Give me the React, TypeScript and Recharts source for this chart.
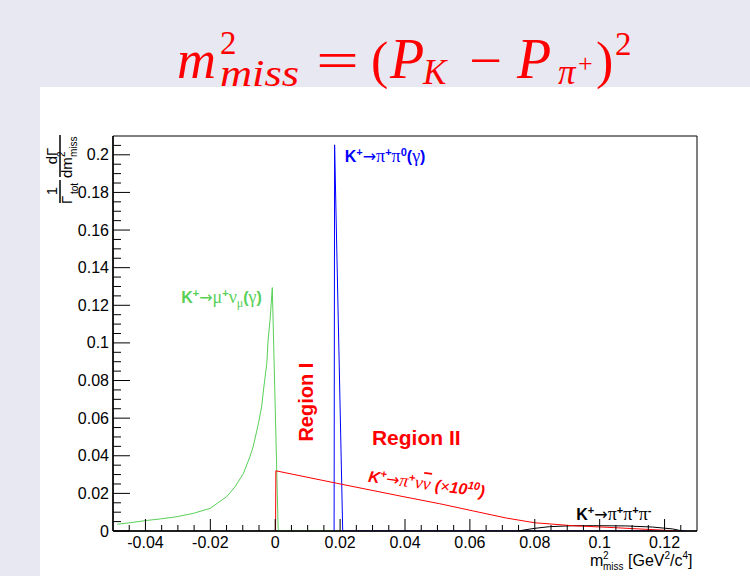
import React from "react";
import { LineChart, Line, XAxis, YAxis, ReferenceArea, ReferenceDot } from "recharts";

// K+ -> mu+ nu (gamma), green
const kmu2 = [
  { x: -0.0487, y: 0.0036 },
  { x: -0.0447, y: 0.0044 },
  { x: -0.0401, y: 0.0055 },
  { x: -0.035, y: 0.0065 },
  { x: -0.0303, y: 0.0076 },
  { x: -0.0252, y: 0.0094 },
  { x: -0.0201, y: 0.012 },
  { x: -0.015, y: 0.0182 },
  { x: -0.0124, y: 0.0235 },
  { x: -0.0098, y: 0.0306 },
  { x: -0.0078, y: 0.0395 },
  { x: -0.0068, y: 0.0448 },
  { x: -0.0052, y: 0.057 },
  { x: -0.0042, y: 0.066 },
  { x: -0.0035, y: 0.0766 },
  { x: -0.0026, y: 0.089 },
  { x: -0.0022, y: 0.1014 },
  { x: -0.0016, y: 0.112 },
  { x: -0.0009, y: 0.1294 },
  { x: 0.0009, y: 0.0014 },
  { x: 0.0012, y: 0 },
  { x: 0.0205, y: 0 },
];

// K+ -> pi+ pi0 (gamma), blue
const k2pi = [
  { x: 0.01815, y: 0 },
  { x: 0.0183, y: 0.2053 },
  { x: 0.0208, y: 0 },
  { x: 0.1266, y: 0 },
];

// K+ -> pi+ pi+ pi-, black
const k3pi = [
  { x: 0.0748, y: 0 },
  { x: 0.0799, y: 0.0014 },
  { x: 0.0845, y: 0.0023 },
  { x: 0.0917, y: 0.0028 },
  { x: 0.0999, y: 0.0028 },
  { x: 0.108, y: 0.0027 },
  { x: 0.1163, y: 0.0021 },
  { x: 0.1225, y: 0.0011 },
  { x: 0.1255, y: 0 },
];

// K+ -> pi+ nu nubar (x 1e10), red
const pinunu = [
  { x: 0.0001, y: 0 },
  { x: 0.0002, y: 0.032 },
  { x: 0.0189, y: 0.0254 },
  { x: 0.0394, y: 0.0183 },
  { x: 0.0507, y: 0.0145 },
  { x: 0.0609, y: 0.0107 },
  { x: 0.0712, y: 0.0069 },
  { x: 0.0799, y: 0.0044 },
  { x: 0.0917, y: 0.0028 },
  { x: 0.102, y: 0.002 },
  { x: 0.1143, y: 0.0009 },
  { x: 0.1245, y: 0 },
];

const xMajor = [-0.04, -0.02, 0, 0.02, 0.04, 0.06, 0.08, 0.1, 0.12];
const yMajor = [0, 0.02, 0.04, 0.06, 0.08, 0.1, 0.12, 0.14, 0.16, 0.18, 0.2];

const steps = (from: number, to: number, step: number) => {
  const out: number[] = [];
  for (let v = from; v <= to + 1e-9; v += step) out.push(Math.round(v * 10000) / 10000);
  return out;
};
const xTicks = steps(-0.045, 0.125, 0.005);
const yTicks = steps(0, 0.205, 0.005);

const isMajor = (v: number, list: number[]) => list.some((m) => Math.abs(m - v) < 1e-6);

const SANS = "'Liberation Sans', Arial, sans-serif";
const SERIF = "'Liberation Serif', 'Times New Roman', serif";
const ARROW = "'DejaVu Sans', sans-serif";
const GREEN = "#58d058";
const RED = "#ff0000";
const BLUE = "#0000ff";

type Part = {
  t: string;
  shift?: number;
  size?: number;
  serif?: boolean;
  arrow?: boolean;
  normal?: boolean;
  italic?: boolean;
  over?: boolean;
};

// a text made of pieces, shift moves a piece up (-) or down (+)
function Rich({ x, y, parts, size, color, bold = true, italic = false, transform, anchor = "start" }: any) {
  let prev = 0;
  return (
    <text
      x={x}
      y={y}
      fill={color}
      fontSize={size}
      fontFamily={SANS}
      fontWeight={bold ? "bold" : "normal"}
      fontStyle={italic ? "italic" : "normal"}
      transform={transform}
      textAnchor={anchor}
    >
      {parts.map((p: Part, i: number) => {
        const s = p.shift || 0;
        const dy = s - prev;
        prev = s;
        return (
          <tspan
            key={i}
            dy={dy}
            fontSize={p.size}
            fontFamily={p.arrow ? ARROW : p.serif ? SERIF : undefined}
            fontWeight={p.normal ? "normal" : undefined}
            fontStyle={p.italic ? "italic" : undefined}
            style={p.over ? { textDecoration: "overline" } : undefined}
          >
            {p.t}
          </tspan>
        );
      })}
    </text>
  );
}

const arrow: Part = { t: "→", arrow: true, normal: true, size: 16 };

const XTick = ({ x, y, payload }: any) => {
  const major = isMajor(payload.value, xMajor);
  return (
    <g>
      <line x1={x} x2={x} y1={y} y2={y - (major ? 12 : 6)} stroke="#000" strokeWidth={1} />
      {major && (
        <text x={x} y={y + 17} textAnchor="middle" fontSize={16} fontFamily={SANS} fill="#000">
          {String(payload.value)}
        </text>
      )}
    </g>
  );
};

const YTick = ({ x, y, payload }: any) => {
  const major = isMajor(payload.value, yMajor);
  return (
    <g>
      <line x1={x} x2={x + (major ? 17 : 8)} y1={y} y2={y} stroke="#000" strokeWidth={1} />
      {major && (
        <text x={x - 4} y={y + 5.5} textAnchor="end" fontSize={16} fontFamily={SANS} fill="#000">
          {String(payload.value)}
        </text>
      )}
    </g>
  );
};

const YTitle = ({ viewBox }: any) => {
  const ox = viewBox.x + 60;
  const oy = viewBox.y + 69;
  return (
    <g transform={`translate(${ox} ${oy}) rotate(-90)`} fontFamily={SANS} fill="#000">
      <text x={14} y={-3} fontSize={15} textAnchor="middle">1</text>
      <line x1={2} x2={25} y1={0} y2={0} stroke="#000" strokeWidth={1.5} />
      <text x={1} y={12} fontSize={15}>Γ</text>
      <text x={11} y={18} fontSize={10}>tot</text>
      <text x={49} y={-3} fontSize={15} textAnchor="middle">dΓ</text>
      <line x1={28} x2={70} y1={0} y2={0} stroke="#000" strokeWidth={1.5} />
      <text x={27} y={12} fontSize={15}>dm</text>
      <text x={48} y={5} fontSize={10}>2</text>
      <text x={48} y={17} fontSize={10}>miss</text>
    </g>
  );
};

const XTitle = ({ viewBox }: any) => {
  const right = viewBox.x + viewBox.width;
  const base = viewBox.y + 35;
  return (
    <g fontFamily={SANS} fill="#000">
      <text x={right - 107} y={base} fontSize={16}>m</text>
      <text x={right - 94} y={base - 7} fontSize={10}>2</text>
      <text x={right - 94} y={base + 4} fontSize={10}>miss</text>
      <Rich
        x={right - 69}
        y={base}
        size={16}
        color="#000"
        bold={false}
        parts={[
          { t: "[GeV" },
          { t: "2", shift: -7, size: 10 },
          { t: "/c" },
          { t: "4", shift: -7, size: 10 },
          { t: "]" },
        ]}
      />
    </g>
  );
};

const note = (render: (cx: number, cy: number) => React.ReactNode) => (p: any) => <g>{render(p.cx, p.cy)}</g>;

function Title() {
  return (
    <svg width={750} height={100} style={{ position: "absolute", left: 0, top: 0 }}>
      <g fill={RED} fontFamily={SERIF}>
        <text x={177} y={78} fontSize={54} fontStyle="italic">m</text>
        <text x={220} y={54} fontSize={33}>2</text>
        <text x={220} y={86} fontSize={37} fontStyle="italic" textLength={79} lengthAdjust="spacingAndGlyphs">miss</text>
        <text x={316} y={78} fontSize={52} textLength={43} lengthAdjust="spacingAndGlyphs">=</text>
        <text x={371} y={78} fontSize={52}>(</text>
        <text x={390} y={78} fontSize={56} fontStyle="italic">P</text>
        <text x={423} y={84} fontSize={35} fontStyle="italic">K</text>
        <text x={469} y={78} fontSize={52} textLength={33} lengthAdjust="spacingAndGlyphs">−</text>
        <text x={517} y={78} fontSize={56} fontStyle="italic">P</text>
        <text x={558} y={84} fontSize={35} fontStyle="italic">π</text>
        <text x={578} y={72} fontSize={26}>+</text>
        <text x={596} y={78} fontSize={52}>)</text>
        <text x={615} y={55} fontSize={33}>2</text>
      </g>
    </svg>
  );
}

export default function App() {
  return (
    <div style={{ position: "absolute", left: 0, top: 0, width: 750, height: 576, background: "#e8e8f3", overflow: "hidden" }}>
      <div style={{ position: "absolute", left: 40, top: 87, width: 710, height: 489, background: "#fff" }} />
      <Title />
      <div style={{ position: "absolute", left: 0, top: 0 }}>
        <LineChart width={750} height={576} margin={{ top: 136, right: 53, bottom: 0, left: 0 }}>
          <XAxis
            dataKey="x"
            type="number"
            domain={[-0.05, 0.13]}
            allowDataOverflow
            ticks={xTicks}
            interval={0}
            tick={XTick}
            tickLine={false}
            tickSize={0}
            tickMargin={0}
            height={45}
            axisLine={{ stroke: "#000", strokeWidth: 1.5 }}
            label={<XTitle />}
          />
          <YAxis
            dataKey="y"
            type="number"
            domain={[0, 0.21]}
            allowDataOverflow
            ticks={yTicks}
            interval={0}
            tick={YTick}
            tickLine={false}
            tickSize={0}
            tickMargin={0}
            width={113}
            axisLine={{ stroke: "#000", strokeWidth: 1.5 }}
            label={<YTitle />}
          />
          <ReferenceArea x1={-0.05} x2={0.13} y1={0} y2={0.21} fill="none" stroke="#000" strokeWidth={1} />
          <Line data={kmu2} dataKey="y" type="linear" stroke={GREEN} strokeWidth={1} dot={false} isAnimationActive={false} />
          <Line data={k2pi} dataKey="y" type="linear" stroke={BLUE} strokeWidth={1} dot={false} isAnimationActive={false} />
          <Line data={k3pi} dataKey="y" type="linear" stroke="#000" strokeWidth={1} dot={false} isAnimationActive={false} />
          <Line data={pinunu} dataKey="y" type="linear" stroke={RED} strokeWidth={1} dot={false} isAnimationActive={false} />

          <ReferenceDot
            x={-0.029}
            y={0.121}
            r={0}
            shape={note((cx, cy) => (
              <Rich
                x={cx}
                y={cy}
                size={16}
                color={GREEN}
                parts={[
                  { t: "K" },
                  { t: "+", shift: -6, size: 11 },
                  arrow,
                  { t: "μ", serif: true, normal: true, size: 18 },
                  { t: "+", shift: -6, size: 11 },
                  { t: "ν", serif: true, normal: true, size: 18 },
                  { t: "μ", shift: 4, size: 12, serif: true, normal: true },
                  { t: "(" },
                  { t: "γ", serif: true, normal: true, size: 18 },
                  { t: ")" },
                ]}
              />
            ))}
          />
          <ReferenceDot
            x={0.0214}
            y={0.1964}
            r={0}
            shape={note((cx, cy) => (
              <Rich
                x={cx}
                y={cy}
                size={16}
                color={BLUE}
                parts={[
                  { t: "K" },
                  { t: "+", shift: -6, size: 11 },
                  arrow,
                  { t: "π", serif: true, normal: true, size: 18 },
                  { t: "+", shift: -6, size: 11 },
                  { t: "π", serif: true, normal: true, size: 18 },
                  { t: "0", shift: -6, size: 11 },
                  { t: "(" },
                  { t: "γ", serif: true, normal: true, size: 18 },
                  { t: ")" },
                ]}
              />
            ))}
          />
          <ReferenceDot
            x={0.0116}
            y={0.0685}
            r={0}
            shape={note((cx, cy) => (
              <text
                x={cx}
                y={cy}
                transform={`rotate(-90 ${cx} ${cy})`}
                textAnchor="middle"
                fontSize={20}
                fontWeight="bold"
                fontFamily={SANS}
                fill={RED}
              >
                Region I
              </text>
            ))}
          />
          <ReferenceDot
            x={0.0298}
            y={0.0457}
            r={0}
            shape={note((cx, cy) => (
              <text x={cx} y={cy} fontSize={21} fontWeight="bold" fontFamily={SANS} fill={RED}>
                Region II
              </text>
            ))}
          />
          <ReferenceDot
            x={0.0285}
            y={0.0262}
            r={0}
            shape={note((cx, cy) => (
              <Rich
                x={cx}
                y={cy}
                size={16}
                color={RED}
                italic
                transform={`rotate(7.5 ${cx} ${cy})`}
                parts={[
                  { t: "K" },
                  { t: "+", shift: -6, size: 11 },
                  arrow,
                  { t: "π", serif: true, normal: true, size: 18 },
                  { t: "+", shift: -6, size: 11 },
                  { t: "ν", serif: true, normal: true, size: 18 },
                  { t: "ν", serif: true, normal: true, size: 18, over: true },
                  { t: " (" },
                  { t: "×", normal: true },
                  { t: "10" },
                  { t: "10", shift: -6, size: 11 },
                  { t: ")" },
                ]}
              />
            ))}
          />
          <ReferenceDot
            x={0.0928}
            y={0.0058}
            r={0}
            shape={note((cx, cy) => (
              <Rich
                x={cx}
                y={cy}
                size={16}
                color="#000"
                parts={[
                  { t: "K" },
                  { t: "+", shift: -6, size: 11 },
                  arrow,
                  { t: "π", serif: true, normal: true, size: 18 },
                  { t: "+", shift: -6, size: 11 },
                  { t: "π", serif: true, normal: true, size: 18 },
                  { t: "+", shift: -6, size: 11 },
                  { t: "π", serif: true, normal: true, size: 18 },
                  { t: "-", shift: -6, size: 11 },
                ]}
              />
            ))}
          />
        </LineChart>
      </div>
    </div>
  );
}
